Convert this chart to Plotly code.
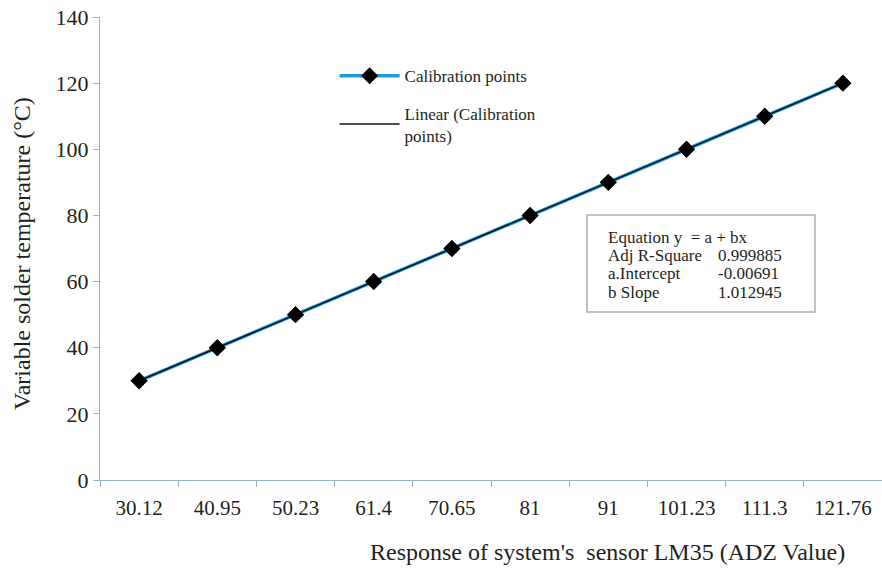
import numpy as np
import plotly.graph_objects as go

categories = ["30.12", "40.95", "50.23", "61.4", "70.65", "81", "91", "101.23", "111.3", "121.76"]
temperatures = [30, 40, 50, 60, 70, 80, 90, 100, 110, 120]
y_ticks = [0, 20, 40, 60, 80, 100, 120, 140]
stat_labels = ["Equation y  = a + bx", "Adj R-Square", "a.Intercept", "b Slope"]
stat_values = ["", "0.999885", "-0.00691", "1.012945"]

idx = np.arange(1, len(categories) + 1)
b, a = np.polyfit(idx, temperatures, 1)
trend = a + b * idx

FONT = "Liberation Serif, Times New Roman, serif"
AX = "#8fb3cc"
TXT = "#231f20"

# plot area in pixels: x 100..882, y 17..480
L, R, T, B = 100, 882, 17, 480
def px(x):
    return (x - L) / (R - L)
def py(y):
    return (B - y) / (B - T)

fig = go.Figure()
fig.add_trace(go.Scatter(
    x=categories, y=temperatures, mode="lines+markers",
    name="Calibration points", legendgroup="a",
    line=dict(color="#1e9be0", width=3.5),
    marker=dict(symbol="diamond", size=13, color="black"),
))
fig.add_trace(go.Scatter(
    x=categories, y=trend, mode="lines",
    name="Linear (Calibration<br>points)", legendgroup="b",
    line=dict(color="#111111", width=1.5),
))
fig.add_trace(go.Scatter(
    x=categories, y=temperatures, mode="markers", showlegend=False,
    marker=dict(symbol="diamond", size=13, color="black"), hoverinfo="skip",
))

fig.update_layout(
    width=882, height=568,
    margin=dict(l=L, r=882 - R, t=T, b=568 - B),
    paper_bgcolor="white", plot_bgcolor="white",
    font=dict(family=FONT, color=TXT, size=18),
    showlegend=True,
    legend=dict(x=0.3, y=0.911, xanchor="left", yanchor="top",
                font=dict(family=FONT, size=17, color=TXT), bgcolor="rgba(0,0,0,0)",
                itemwidth=60, traceorder="grouped", tracegroupgap=12),
    xaxis=dict(type="category", tickson="boundaries", ticks="outside", ticklen=6,
               tickcolor=AX, showline=True, linecolor=AX, linewidth=1.2,
               showgrid=False, range=[-0.5, 9.5], ticklabelstandoff=9,
               tickfont=dict(size=21)),
    yaxis=dict(range=[0, 140], tickvals=y_ticks, ticks="outside", ticklen=6,
               tickcolor=AX, showline=True, linecolor=AX, linewidth=1.2,
               showgrid=False, zeroline=False, tickfont=dict(size=22),
               ticksuffix="\u00a0\u2009"),
)

# axis titles
fig.add_annotation(xref="paper", yref="paper", x=px(607), y=py(552),
                   text="Response of system's  sensor LM35 (ADZ Value)",
                   showarrow=False, font=dict(size=24, color=TXT, family=FONT),
                   xanchor="center", yanchor="middle")
fig.add_annotation(xref="paper", yref="paper", x=px(22), y=py(254),
                   text="Variable solder temperature (°C)", textangle=-90,
                   showarrow=False, font=dict(size=24, color=TXT, family=FONT),
                   xanchor="center", yanchor="middle")

# statistics box
fig.add_shape(type="rect", xref="paper", yref="paper",
              x0=px(587), x1=px(815), y0=py(312), y1=py(215),
              line=dict(color="#a8b0b4", width=1.5), fillcolor="white", layer="above")
line_y = [237, 255, 273, 292]
for lab, val, yy in zip(stat_labels, stat_values, line_y):
    fig.add_annotation(xref="paper", yref="paper", x=px(606), y=py(yy), text=lab,
                       showarrow=False, xanchor="left", yanchor="middle",
                       font=dict(size=17, color=TXT, family=FONT))
    if val:
        fig.add_annotation(xref="paper", yref="paper", x=px(716), y=py(yy), text=val,
                           showarrow=False, xanchor="left", yanchor="middle",
                           font=dict(size=17, color=TXT, family=FONT))

fig.write_html("out.html")
